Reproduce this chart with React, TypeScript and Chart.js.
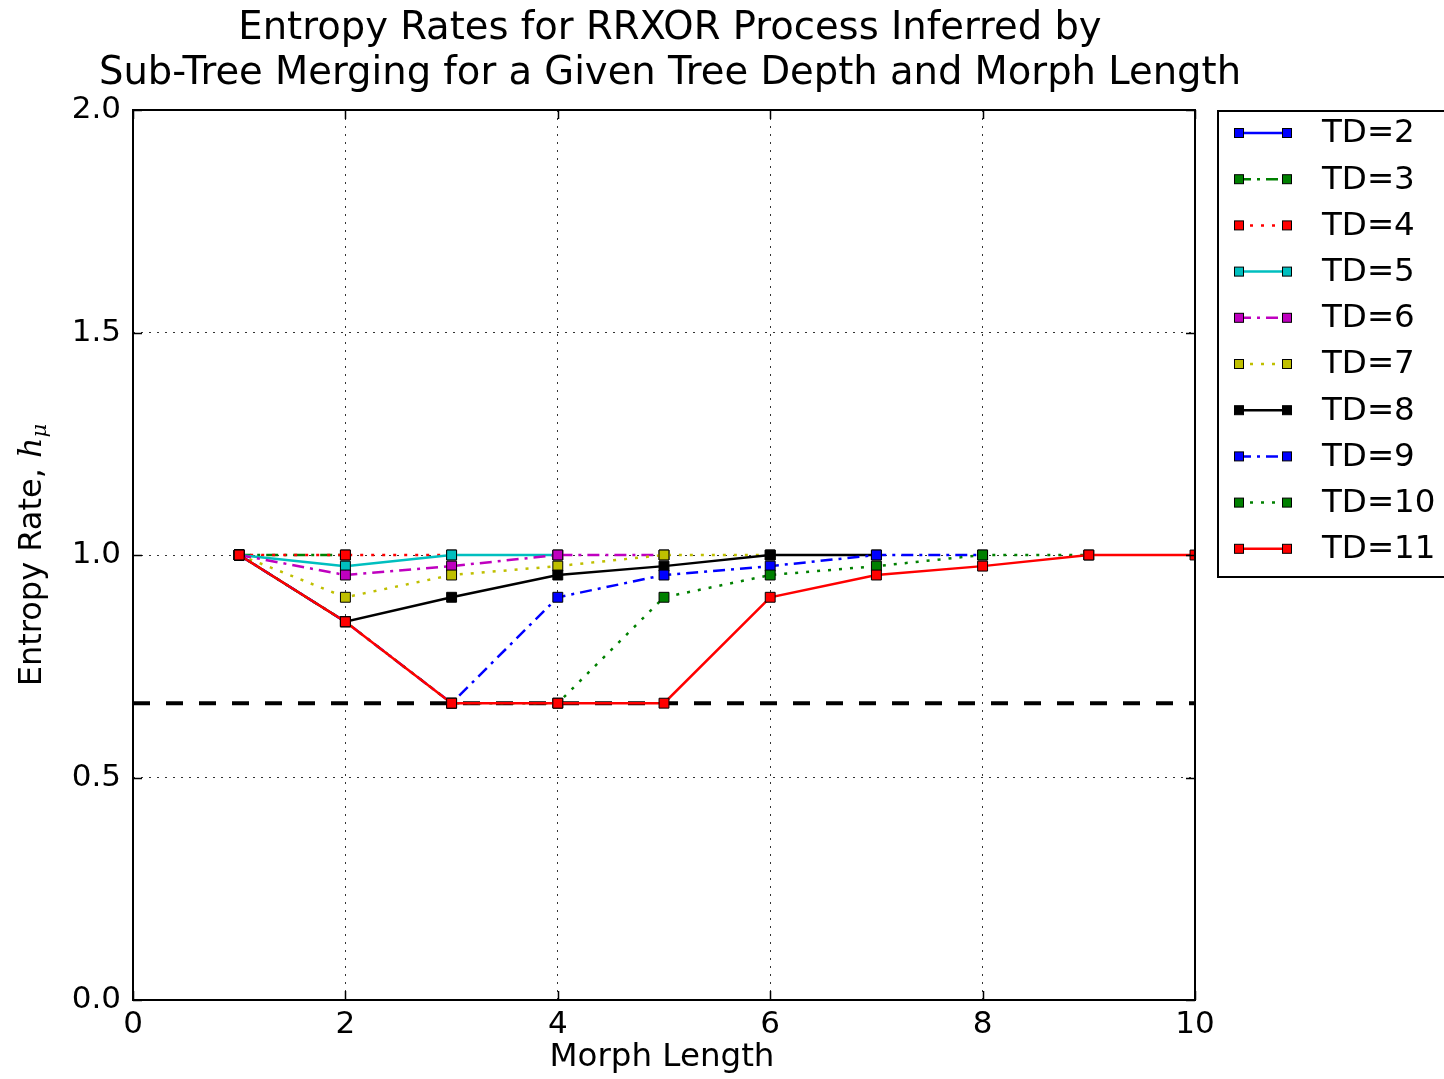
import React, { useEffect, useRef } from "react";
import { Chart, registerables } from "chart.js";

Chart.register(...registerables);

// ---- data ----
const morphLengths = [1, 2, 3, 4, 5, 6, 7, 8, 9, 10];
const td2 = [1.0];
const td3 = [1.0, 1.0];
const td4 = [1.0, 1.0, 1.0];
const td5 = [1.0, 0.975, 1.0, 1.0];
const td6 = [1.0, 0.955, 0.975, 1.0, 1.0];
const td7 = [1.0, 0.905, 0.955, 0.975, 1.0, 1.0];
const td8 = [1.0, 0.85, 0.905, 0.955, 0.975, 1.0, 1.0];
const td9 = [1.0, 0.85, 0.667, 0.905, 0.955, 0.975, 1.0, 1.0];
const td10 = [1.0, 0.85, 0.667, 0.667, 0.905, 0.955, 0.975, 1.0, 1.0];
const td11 = [1.0, 0.85, 0.667, 0.667, 0.667, 0.905, 0.955, 0.975, 1.0, 1.0];
const seriesLabels = ["TD=2", "TD=3", "TD=4", "TD=5", "TD=6", "TD=7", "TD=8", "TD=9", "TD=10", "TD=11"];
const seriesValues = [td2, td3, td4, td5, td6, td7, td8, td9, td10, td11];
const referenceRate = 2 / 3;
const referenceX = [0, 10];
const xTicks = [0, 2, 4, 6, 8, 10];
const yTicks = [0.0, 0.5, 1.0, 1.5, 2.0];

// ---- styles ----
const DASHDOT = [12, 6, 3, 6];
const DOTTED = [3, 8];
const seriesColors = ["#0000ff", "#008000", "#ff0000", "#00bfbf", "#bf00bf", "#bfbf00", "#000000", "#0000ff", "#008000", "#ff0000"];
const seriesDashes: number[][] = [[], DASHDOT, DOTTED, [], DASHDOT, DOTTED, [], DASHDOT, DOTTED, []];
const FONT = "'DejaVu Sans', sans-serif";

const W = 1444;
const H = 1079;

const decorPlugin = {
  id: "decor",
  afterDatasetsDraw(chart: any) {
    const ctx = chart.ctx;
    const { left, right, top, bottom } = chart.chartArea;
    const xs = chart.scales.x;
    const ys = chart.scales.y;
    ctx.save();
    // inward ticks
    ctx.strokeStyle = "#000";
    ctx.lineWidth = 1.5;
    ctx.setLineDash([]);
    const tl = 9;
    xTicks.forEach((t) => {
      const px = Math.round(xs.getPixelForValue(t)) + 0.5;
      ctx.beginPath();
      ctx.moveTo(px, bottom);
      ctx.lineTo(px, bottom - tl);
      ctx.moveTo(px, top);
      ctx.lineTo(px, top + tl);
      ctx.stroke();
    });
    yTicks.forEach((t) => {
      const py = Math.round(ys.getPixelForValue(t)) + 0.5;
      ctx.beginPath();
      ctx.moveTo(left, py);
      ctx.lineTo(left + tl, py);
      ctx.moveTo(right, py);
      ctx.lineTo(right - tl, py);
      ctx.stroke();
    });
    // frame
    ctx.lineWidth = 2;
    ctx.strokeRect(left, top, right - left, bottom - top);

    // title
    ctx.fillStyle = "#000";
    ctx.font = `38.5px ${FONT}`;
    ctx.textAlign = "center";
    ctx.textBaseline = "middle";
    const cx = (left + right) / 2 + 6;
    ctx.fillText("Entropy Rates for RRXOR Process Inferred by", cx, 29);
    ctx.fillText("Sub-Tree Merging for a Given Tree Depth and Morph Length", cx, 74);

    // x title
    ctx.font = `32.5px ${FONT}`;
    ctx.fillText("Morph Length", 662, 1058);

    // y title
    ctx.save();
    ctx.translate(30, 0);
    ctx.rotate(-Math.PI / 2);
    const part1 = "Entropy Rate, ";
    ctx.font = `32px ${FONT}`;
    const w1 = ctx.measureText(part1).width;
    ctx.font = `italic 32px 'DejaVu Serif', serif`;
    const w2 = ctx.measureText("h").width;
    ctx.font = `italic 21px 'DejaVu Serif', serif`;
    const w3 = ctx.measureText("μ").width;
    const total = w1 + w2 + w3;
    const cy = -555;
    let sx = cy - total / 2;
    ctx.textAlign = "left";
    ctx.textBaseline = "alphabetic";
    ctx.font = `32px ${FONT}`;
    ctx.fillText(part1, sx, 11);
    sx += w1;
    ctx.font = `italic 32px 'DejaVu Serif', serif`;
    ctx.fillText("h", sx, 11);
    sx += w2;
    ctx.font = `italic 21px 'DejaVu Serif', serif`;
    ctx.fillText("μ", sx, 16);
    ctx.restore();

    // legend
    const lx = 1217;
    const ly = 110;
    ctx.fillStyle = "#fff";
    ctx.fillRect(lx, ly, 240, 467);
    ctx.strokeStyle = "#000";
    ctx.lineWidth = 2;
    ctx.setLineDash([]);
    ctx.strokeRect(lx + 1, ly + 1, 240, 466);
    seriesLabels.forEach((lab, i) => {
      const y = 133 + i * 46.2;
      ctx.strokeStyle = seriesColors[i];
      ctx.lineWidth = 2.5;
      ctx.setLineDash(seriesDashes[i]);
      ctx.beginPath();
      ctx.moveTo(1239, y);
      ctx.lineTo(1287, y);
      ctx.stroke();
      ctx.setLineDash([]);
      [1239, 1287].forEach((mx) => {
        ctx.fillStyle = seriesColors[i];
        ctx.fillRect(mx - 4.5, y - 4.5, 9, 9);
        ctx.strokeStyle = "#000";
        ctx.lineWidth = 1;
        ctx.strokeRect(mx - 4.5, y - 4.5, 9, 9);
      });
      ctx.fillStyle = "#000";
      ctx.font = `32.5px ${FONT}`;
      ctx.textAlign = "left";
      ctx.textBaseline = "middle";
      ctx.fillText(lab, 1322, y + 1);
    });
    ctx.restore();
  },
};

export default function App() {
  const ref = useRef<HTMLCanvasElement>(null);
  useEffect(() => {
    if (!ref.current) return;
    const datasets: any[] = seriesValues.map((vals, i) => ({
      label: seriesLabels[i],
      data: vals.map((v, j) => ({ x: morphLengths[j], y: v })),
      borderColor: seriesColors[i],
      backgroundColor: seriesColors[i],
      borderDash: seriesDashes[i],
      borderWidth: 2.5,
      pointStyle: "rect",
      pointRadius: 7,
      pointBorderColor: "#000",
      pointBorderWidth: 1,
      pointBackgroundColor: seriesColors[i],
      tension: 0,
      order: 20 - i,
    }));
    datasets.push({
      label: "reference",
      data: referenceX.map((x) => ({ x, y: referenceRate })),
      borderColor: "#000",
      borderWidth: 4,
      borderDash: [17, 16],
      pointRadius: 0,
      order: 100,
    });
    const chart = new Chart(ref.current, {
      type: "line",
      data: { datasets },
      options: {
        animation: false,
        responsive: false,
        maintainAspectRatio: false,
        layout: { padding: { top: 110, right: W - 1195, left: 0, bottom: 0 } },
        plugins: { legend: { display: false }, tooltip: { enabled: false }, title: { display: false } },
        scales: {
          x: {
            type: "linear",
            min: 0,
            max: 10,
            afterFit: (s: any) => {
              s.height = H - 1000;
            },
            afterBuildTicks: (s: any) => {
              s.ticks = xTicks.map((v) => ({ value: v }));
            },
            ticks: {
              color: "#000",
              font: { family: FONT, size: 31 },
              padding: 6,
              maxRotation: 0,
              callback: (v: any) => String(v),
            },
            grid: { color: "#333", lineWidth: 1, drawTicks: false } as any,
            border: { display: false, dash: [2, 6] },
          },
          y: {
            type: "linear",
            min: 0,
            max: 2,
            afterFit: (s: any) => {
              s.width = 133;
            },
            afterBuildTicks: (s: any) => {
              s.ticks = yTicks.map((v) => ({ value: v }));
            },
            ticks: {
              color: "#000",
              font: { family: FONT, size: 31 },
              padding: 12,
              callback: (v: any) => Number(v).toFixed(1),
            },
            grid: { color: "#333", lineWidth: 1, drawTicks: false } as any,
            border: { display: false, dash: [2, 6] },
          },
        },
      },
      plugins: [decorPlugin],
    } as any);
    return () => chart.destroy();
  }, []);
  return (
    <div style={{ position: "absolute", left: 0, top: 0, width: W, height: H, background: "#fff" }}>
      <canvas ref={ref} width={W} height={H} style={{ width: W, height: H }} />
    </div>
  );
}
